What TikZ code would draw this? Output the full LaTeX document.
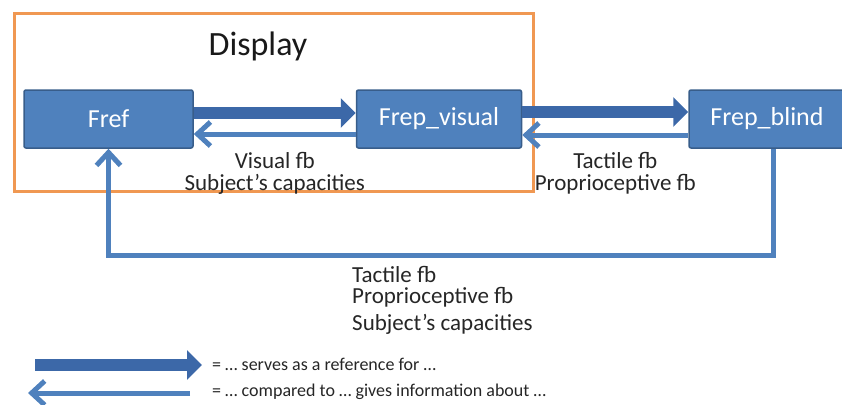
\documentclass[tikz,border=0pt]{standalone}
\usepackage{fontspec}
\setmainfont{Carlito}
\usetikzlibrary{arrows.meta, positioning}

\definecolor{boxblue}{RGB}{79,129,189}
\definecolor{boxedge}{RGB}{56,93,138}
\definecolor{refblue}{RGB}{60,104,168}
\definecolor{fbblue}{RGB}{79,129,189}
\definecolor{dispor}{RGB}{240,152,82}

\tikzset{
  frame/.style={rectangle, draw=boxedge, line width=1.5pt, fill=boxblue, rounded corners=2pt,
    text=white, font=\fontsize{26}{26}\selectfont, minimum height=58pt, inner sep=0pt},
  refarrow/.style={draw=refblue, line width=12pt, -{Triangle[width=29pt,length=15pt]}},
  fbarrow/.style={draw=fbblue, line width=5pt, -{Straight Barb[width=24pt,length=13pt]}},
  fblabel/.style={font=\fontsize{23}{22}\selectfont, align=center, inner sep=0pt, text=black!85},
  keytext/.style={font=\fontsize{18}{18}\selectfont, anchor=west, inner sep=0pt, text=black!85},
}

\begin{document}
\begin{tikzpicture}[x=1pt, y=-1pt]
  \useasboundingbox (0,0) rectangle (842,404);
  \draw[dispor, line width=3pt] (14,14) rectangle (533,191);
  \node[font=\fontsize{34}{34}\selectfont, text=black!90] (display) at (258,46) {Display};

  \node[frame, minimum width=169pt] (fref) at (108.5,119) {Fref};
  \node[frame, minimum width=165pt, right=162pt of fref] (frepv) {Frep\_visual};
  \node[frame, minimum width=156pt, right=166pt of frepv] (frepb) {Frep\_blind};

  \draw[refarrow] ([yshift=6pt]fref.east) -- ([yshift=6pt]frepv.west);
  \draw[refarrow] ([yshift=7pt]frepv.east) -- ([yshift=7pt]frepb.west);
  \draw[fbarrow] ([yshift=-15pt]frepv.west) -- ([yshift=-15pt]fref.east)
    node[fblabel, midway, below=16pt] (visfb) {Visual fb\\Subject’s capacities};
  \draw[fbarrow] ([yshift=-16pt]frepb.west) -- ([yshift=-16pt]frepv.east)
    node[fblabel, midway, below=15pt, xshift=10pt] (tacfb) {Tactile fb\\Proprioceptive fb};

  \coordinate (loopbase) at (440,255);
  \draw[fbarrow] ([xshift=6pt]frepb.south) |- (loopbase) -| (fref.south);
  \node[fblabel, align=left, anchor=north west, font=\fontsize{23}{21}\selectfont] (loopfb) at (352,266)
    {Tactile fb\\Proprioceptive fb\\[6pt]Subject’s capacities};

  \coordinate (refA) at (35,365);
  \coordinate (refB) at (202,365);
  \draw[refarrow] (refA) -- (refB);
  \node[keytext] (refkey) at (212,364) {= … serves as a reference for …};
  \coordinate (fbA) at (190,393);
  \coordinate (fbB) at (28,393);
  \draw[fbarrow] (fbA) -- (fbB);
  \node[keytext] (fbkey) at (212,392) {= … compared to … gives information about …};
\end{tikzpicture}
\end{document}
